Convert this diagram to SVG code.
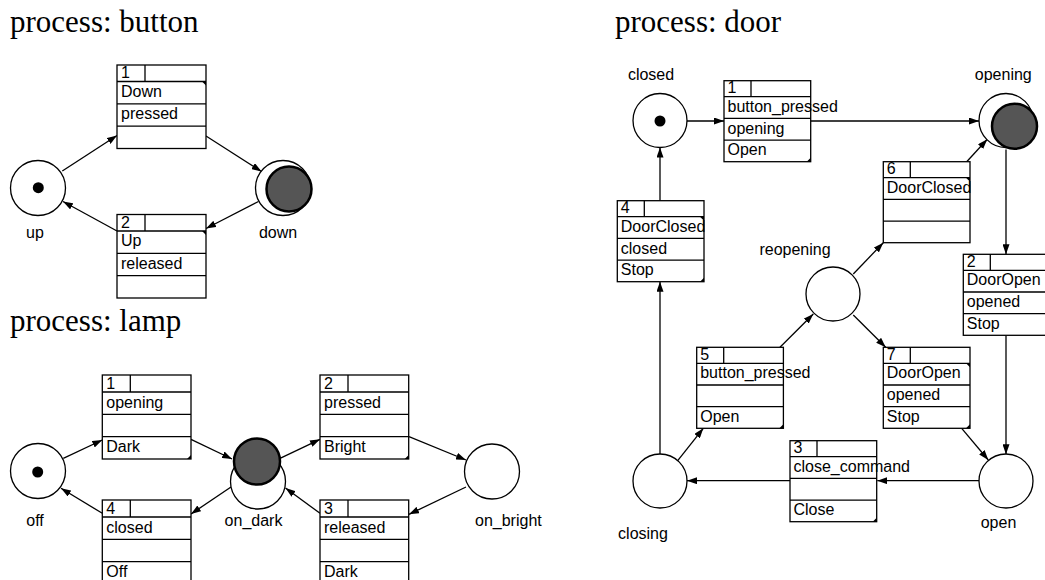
<svg xmlns="http://www.w3.org/2000/svg" width="1045" height="580" viewBox="0 0 1045 580">
  <defs>
    <marker id="arrow" markerUnits="userSpaceOnUse" markerWidth="10" markerHeight="7" refX="10" refY="3.5" orient="auto">
      <path d="M0,0 L10,3.5 L0,7 z" fill="#000"/>
    </marker>
  </defs>
  <style>
    .title { font-family: "Liberation Serif", "Times New Roman", serif; font-size: 31px; fill: #000; }
    .label { font-family: "Liberation Sans", Arial, sans-serif; font-size: 16px; fill: #000; text-anchor: middle; }
    .cell { font-family: "Liberation Sans", Arial, sans-serif; font-size: 16px; fill: #000; }
    .place { fill: #fff; stroke: #000; stroke-width: 1.3; }
    .active { fill: #555; stroke: #000; stroke-width: 2.5; }
    .token { fill: #000; }
    .box { fill: #fff; stroke: #000; stroke-width: 1.3; }
    .sep { stroke: #000; stroke-width: 1.3; fill: none; }
    .mark { fill: #000; }
    .arc { stroke: #000; stroke-width: 1.3; fill: none; marker-end: url(#arrow); }
  </style>
  <rect width="1045" height="580" fill="#fff"/>

  <text class="title" x="10" y="32">process: button</text>
  <text class="title" x="10" y="331">process: lamp</text>
  <text class="title" x="615" y="32">process: door</text>

  <!-- connectors -->
  <g id="connectors">
    <!-- button -->
    <line class="arc" x1="62.3" y1="171" x2="117" y2="135.5"/>
    <line class="arc" x1="206" y1="136" x2="261.5" y2="171.5"/>
    <line class="arc" x1="258.5" y1="201.5" x2="206" y2="228.5"/>
    <line class="arc" x1="117" y1="231" x2="63" y2="201.5"/>
    <!-- lamp -->
    <line class="arc" x1="63.3" y1="458.3" x2="102.3" y2="440"/>
    <line class="arc" x1="191" y1="439.3" x2="232" y2="459"/>
    <line class="arc" x1="280" y1="458.3" x2="320" y2="439.3"/>
    <line class="arc" x1="409" y1="436.7" x2="466" y2="460"/>
    <line class="arc" x1="466" y1="487" x2="409" y2="514.3"/>
    <line class="arc" x1="320" y1="513.3" x2="285.5" y2="488"/>
    <line class="arc" x1="231" y1="487" x2="191" y2="514"/>
    <line class="arc" x1="102.3" y1="513.3" x2="61" y2="488.3"/>
    <!-- door -->
    <line class="arc" x1="687" y1="121" x2="724" y2="121"/>
    <line class="arc" x1="810.7" y1="121" x2="979" y2="121"/>
    <line class="arc" x1="1006" y1="149.5" x2="1006" y2="254.3"/>
    <line class="arc" x1="1006" y1="335.3" x2="1006" y2="454.3"/>
    <line class="arc" x1="979.3" y1="480.7" x2="877.3" y2="480.7"/>
    <line class="arc" x1="790" y1="480.7" x2="687" y2="480.7"/>
    <line class="arc" x1="660" y1="454.3" x2="660" y2="281.7"/>
    <line class="arc" x1="660" y1="200.7" x2="660" y2="147.5"/>
    <line class="arc" x1="677.7" y1="460.7" x2="703.3" y2="428.3"/>
    <line class="arc" x1="780" y1="347.3" x2="813.3" y2="314"/>
    <line class="arc" x1="853.3" y1="274" x2="883.3" y2="242.7"/>
    <line class="arc" x1="966.7" y1="161.7" x2="987.3" y2="139.3"/>
    <line class="arc" x1="853.3" y1="315" x2="885.7" y2="347.3"/>
    <line class="arc" x1="961.7" y1="428.3" x2="988.3" y2="460"/>
  </g>

  <!-- button places -->
  <g id="button-up">
    <circle class="place" cx="38" cy="188" r="27.5"/>
    <circle class="token" cx="38.3" cy="187.7" r="5.5"/>
    <text class="label" x="35" y="238">up</text>
  </g>
  <g id="button-down">
    <circle class="place" cx="283" cy="188" r="27.5"/>
    <circle class="active" cx="289" cy="189" r="22.5"/>
    <text class="label" x="278" y="238">down</text>
  </g>

  <!-- button transitions -->
  <g id="button-t1" transform="translate(117,65)">
    <rect class="box" x="0" y="0" width="89" height="83.5"/>
    <path class="sep" d="M28,0 V16.5 M0,16.5 H89 M0,38.8 H89 M0,61.2 H89"/>
    <polygon class="mark" points="85,16.5 89,16.5 89,20.5"/>
    <text class="cell" x="4" y="13">1</text>
    <text class="cell" x="4" y="31.5">Down</text>
    <text class="cell" x="4" y="54">pressed</text>
  </g>
  <g id="button-t2" transform="translate(117,214.5)">
    <rect class="box" x="0" y="0" width="89" height="83.5"/>
    <path class="sep" d="M28,0 V16.5 M0,16.5 H89 M0,38.8 H89 M0,61.2 H89"/>
    <polygon class="mark" points="85,16.5 89,16.5 89,20.5"/>
    <text class="cell" x="4" y="13">2</text>
    <text class="cell" x="4" y="31.5">Up</text>
    <text class="cell" x="4" y="54">released</text>
  </g>

  <!-- lamp places -->
  <g id="lamp-off">
    <circle class="place" cx="38" cy="471" r="27.5"/>
    <circle class="token" cx="37.7" cy="472" r="5.5"/>
    <text class="label" x="35" y="526">off</text>
  </g>
  <g id="lamp-on_dark">
    <circle class="place" cx="258" cy="481.5" r="27.5"/>
    <circle class="active" cx="257" cy="461.5" r="23"/>
    <text class="label" x="253.5" y="526">on_dark</text>
  </g>
  <g id="lamp-on_bright">
    <circle class="place" cx="492" cy="471.5" r="27.5"/>
    <text class="label" x="475" y="526" style="text-anchor:start">on_bright</text>
  </g>

  <!-- lamp transitions -->
  <g id="lamp-t1" transform="translate(102.3,375)">
    <rect class="box" x="0" y="0" width="88.7" height="84"/>
    <path class="sep" d="M28,0 V17 M0,17 H88.7 M0,39.3 H88.7 M0,61.7 H88.7"/>
    <polygon class="mark" points="88.7,80 88.7,84 84.7,84"/>
    <text class="cell" x="4" y="13.5">1</text>
    <text class="cell" x="4" y="32.5">opening</text>
    <text class="cell" x="4" y="77">Dark</text>
  </g>
  <g id="lamp-t2" transform="translate(320,375)">
    <rect class="box" x="0" y="0" width="88.7" height="84"/>
    <path class="sep" d="M28,0 V17 M0,17 H88.7 M0,39.3 H88.7 M0,61.7 H88.7"/>
    <polygon class="mark" points="88.7,80 88.7,84 84.7,84"/>
    <text class="cell" x="4" y="13.5">2</text>
    <text class="cell" x="4" y="32.5">pressed</text>
    <text class="cell" x="4" y="77">Bright</text>
  </g>
  <g id="lamp-t3" transform="translate(320,500)">
    <rect class="box" x="0" y="0" width="88.7" height="84"/>
    <path class="sep" d="M28,0 V17 M0,17 H88.7 M0,39.3 H88.7 M0,61.7 H88.7"/>
    <text class="cell" x="4" y="13.5">3</text>
    <text class="cell" x="4" y="32.5">released</text>
    <text class="cell" x="4" y="77">Dark</text>
  </g>
  <g id="lamp-t4" transform="translate(102.3,500)">
    <rect class="box" x="0" y="0" width="88.7" height="84"/>
    <path class="sep" d="M28,0 V17 M0,17 H88.7 M0,39.3 H88.7 M0,61.7 H88.7"/>
    <text class="cell" x="4" y="13.5">4</text>
    <text class="cell" x="4" y="32.5">closed</text>
    <text class="cell" x="4" y="77">Off</text>
  </g>

  <!-- door places -->
  <g id="door-closed">
    <circle class="place" cx="660" cy="120.5" r="27"/>
    <circle class="token" cx="660" cy="121" r="5.5"/>
    <text class="label" x="651" y="80">closed</text>
  </g>
  <g id="door-opening">
    <circle class="place" cx="1006" cy="120.5" r="27"/>
    <circle class="active" cx="1014.5" cy="126.3" r="22.5"/>
    <text class="label" x="1003.3" y="80">opening</text>
  </g>
  <g id="door-reopening">
    <circle class="place" cx="833" cy="294" r="27"/>
    <text class="label" x="795" y="255">reopening</text>
  </g>
  <g id="door-closing">
    <circle class="place" cx="660" cy="481" r="27"/>
    <text class="label" x="643" y="539">closing</text>
  </g>
  <g id="door-open">
    <circle class="place" cx="1006" cy="481" r="27"/>
    <text class="label" x="998.5" y="527.5">open</text>
  </g>

  <!-- door transitions -->
  <g id="door-t1" transform="translate(724,80.7)">
    <rect class="box" x="0" y="0" width="86.7" height="81"/>
    <path class="sep" d="M27,0 V16 M0,16 H86.7 M0,37.7 H86.7 M0,59.4 H86.7"/>
    <polygon class="mark" points="86.7,77 86.7,81 82.7,81"/>
    <text class="cell" x="3.5" y="12.5">1</text>
    <text class="cell" x="3.5" y="31.2">button_pressed</text>
    <text class="cell" x="3.5" y="52.9">opening</text>
    <text class="cell" x="3.5" y="74.6">Open</text>
  </g>
  <g id="door-t2" transform="translate(963.3,254.3)">
    <rect class="box" x="0" y="0" width="86.7" height="81"/>
    <path class="sep" d="M27,0 V16 M0,16 H86.7 M0,37.7 H86.7 M0,59.4 H86.7"/>
    <text class="cell" x="3.5" y="12.5">2</text>
    <text class="cell" x="3.5" y="31.2">DoorOpen</text>
    <text class="cell" x="3.5" y="52.9">opened</text>
    <text class="cell" x="3.5" y="74.6">Stop</text>
  </g>
  <g id="door-t3" transform="translate(790,440.7)">
    <rect class="box" x="0" y="0" width="86.7" height="81"/>
    <path class="sep" d="M27,0 V16 M0,16 H86.7 M0,37.7 H86.7 M0,59.4 H86.7"/>
    <polygon class="mark" points="86.7,77 86.7,81 82.7,81"/>
    <text class="cell" x="3.5" y="12.5">3</text>
    <text class="cell" x="3.5" y="31.2">close_command</text>
    <text class="cell" x="3.5" y="74.6">Close</text>
  </g>
  <g id="door-t4" transform="translate(617.3,200.7)">
    <rect class="box" x="0" y="0" width="86.7" height="81"/>
    <path class="sep" d="M27,0 V16 M0,16 H86.7 M0,37.7 H86.7 M0,59.4 H86.7"/>
    <polygon class="mark" points="82.7,16 86.7,16 86.7,20"/>
    <polygon class="mark" points="86.7,77 86.7,81 82.7,81"/>
    <text class="cell" x="3.5" y="12.5">4</text>
    <text class="cell" x="3.5" y="31.2">DoorClosed</text>
    <text class="cell" x="3.5" y="52.9">closed</text>
    <text class="cell" x="3.5" y="74.6">Stop</text>
  </g>
  <g id="door-t5" transform="translate(696.7,347.3)">
    <rect class="box" x="0" y="0" width="86.7" height="81"/>
    <path class="sep" d="M27,0 V16 M0,16 H86.7 M0,37.7 H86.7 M0,59.4 H86.7"/>
    <polygon class="mark" points="86.7,77 86.7,81 82.7,81"/>
    <text class="cell" x="3.5" y="12.5">5</text>
    <text class="cell" x="3.5" y="31.2">button_pressed</text>
    <text class="cell" x="3.5" y="74.6">Open</text>
  </g>
  <g id="door-t6" transform="translate(883.3,161.7)">
    <rect class="box" x="0" y="0" width="86.7" height="81"/>
    <path class="sep" d="M27,0 V16 M0,16 H86.7 M0,37.7 H86.7 M0,59.4 H86.7"/>
    <polygon class="mark" points="82.7,16 86.7,16 86.7,20"/>
    <text class="cell" x="3.5" y="12.5">6</text>
    <text class="cell" x="3.5" y="31.2">DoorClosed</text>
  </g>
  <g id="door-t7" transform="translate(883.3,347.3)">
    <rect class="box" x="0" y="0" width="86.7" height="81"/>
    <path class="sep" d="M27,0 V16 M0,16 H86.7 M0,37.7 H86.7 M0,59.4 H86.7"/>
    <polygon class="mark" points="82.7,16 86.7,16 86.7,20"/>
    <polygon class="mark" points="86.7,77 86.7,81 82.7,81"/>
    <text class="cell" x="3.5" y="12.5">7</text>
    <text class="cell" x="3.5" y="31.2">DoorOpen</text>
    <text class="cell" x="3.5" y="52.9">opened</text>
    <text class="cell" x="3.5" y="74.6">Stop</text>
  </g>
</svg>
